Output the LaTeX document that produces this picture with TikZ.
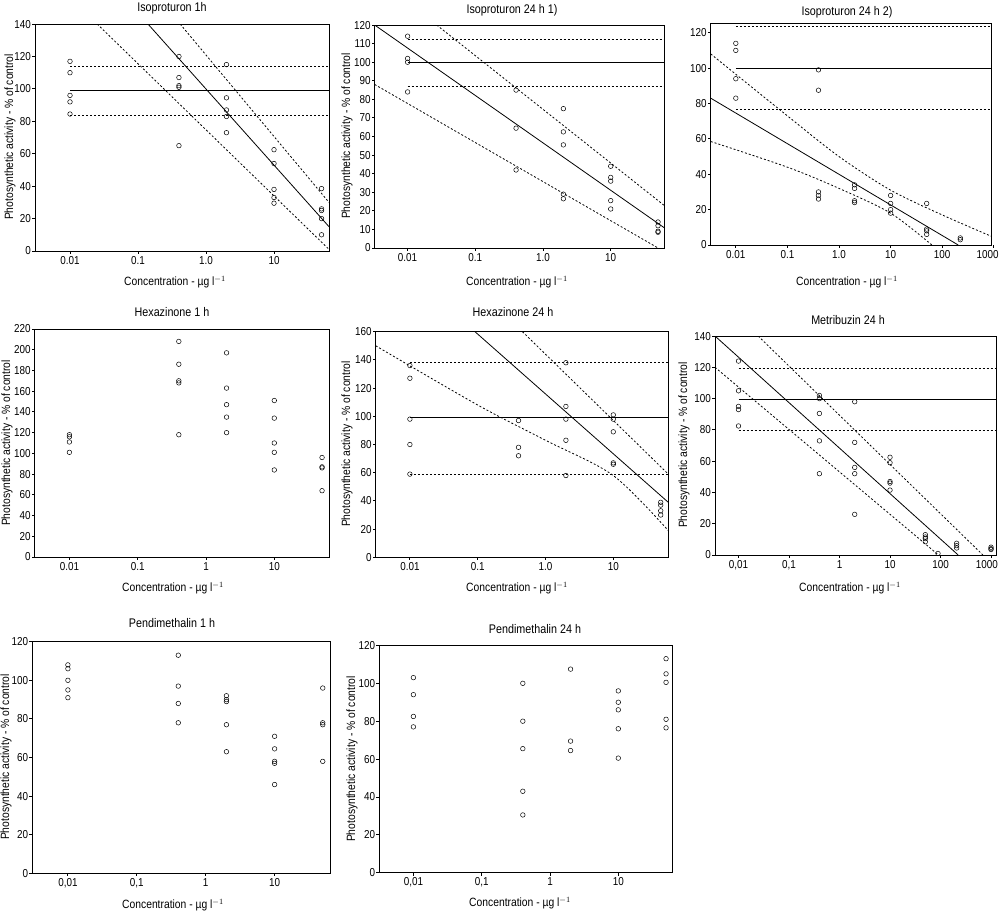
\documentclass[tikz,border=0pt]{standalone}
\usepackage{fontspec}
\setmainfont{Liberation Sans}
\newfontfamily\nar[FakeStretch=0.86]{Liberation Sans}
\begin{document}
\begin{tikzpicture}[x=1pt,y=-1pt,
  tick/.style={font=\nar\fontsize{11.5}{13}\selectfont,inner sep=1pt},
  lab/.style={font=\nar\fontsize{12}{14}\selectfont,inner sep=0pt},
  ttl/.style={font=\nar\fontsize{12.5}{14}\selectfont,inner sep=0pt},
  fr/.style={line width=0.9pt},
  reg/.style={line width=0.8pt},
  ci/.style={line width=0.8pt,dash pattern=on 2pt off 2pt},
  pt/.style={line width=0.5pt}]
\useasboundingbox (0,0) rectangle (1000,911);
\newcommand\myaxes[4]{%
  \draw[fr] (#1,0) rectangle (#2,#3);
  \foreach \v in {#4} {\draw[fr] (#1,\v) -- ++(-3pt,0);
    \node[tick,anchor=east] (yt\v) at ([xshift=-3pt](#1,\v) {\v};}}
\newcommand\myxt[1]{%
  \foreach \k/\l in {#1} {\draw[fr] (\k,0) -- ++(0,-3pt);
    \node[tick,anchor=north] (xt\k) at ([yshift=-4pt]\k,0) {\l};}}
\newcommand\ptcol[2]{\foreach \v in {#2} \draw[pt] (#1,\v) circle[radius=2.3pt];}
\newcommand\xlab{Concentration - \textmu g l$^{-1}$}
\newcommand\ylab{Photosynthetic activity - \% of control}

% ---------- Panel 1
\node[ttl] (t1) at (172,8) {Isoproturon 1h};
\node[lab] (xl1) at (175,282) {\xlab};
\node[lab,rotate=90] (yl1) at (10,137) {\ylab};
\begin{scope}[shift={(206,251)},x=68pt,y=1.621pt]
\myaxes{-2.515}{1.809}{140}{0,20,40,60,80,100,120,140}
\myxt{-2/0.01,-1/0.1,0/1.0,1/10}
\begin{scope}
\clip (-2.515,0) rectangle (1.809,140);
\draw[reg] (-2,99) -- (1.809,99);
\draw[ci] (-2,114) -- (1.809,114);
\draw[ci] (-2,83.5) -- (1.809,83.5);
\draw[reg] (-0.853,140) -- (1.809,15);
\draw[ci] (-0.38,140) -- (1.809,30);
\draw[ci] (-1.60,140) -- (1.809,1);
\end{scope}
\ptcol{-2}{117,110,96,92,84.5}
\ptcol{-0.398}{120,107,102,101,65}
\ptcol{0.301}{115,94.5,87,83,73}
\ptcol{1}{62.5,54,38,33,29.5}
\ptcol{1.699}{38.5,26,25,20,10}
\end{scope}

% ---------- Panel 2
\node[ttl] (t2) at (512,10) {Isoproturon 24 h 1)};
\node[lab] (xl2) at (517,282) {\xlab};
\node[lab,rotate=90] (yl2) at (347,136) {\ylab};
\begin{scope}[shift={(543,248)},x=67.7pt,y=1.858pt]
\myaxes{-2.486}{1.787}{120}{0,10,20,30,40,50,60,70,80,90,100,110,120}
\myxt{-2/0.01,-1/0.1,0/1.0,1/10}
\begin{scope}
\clip (-2.486,0) rectangle (1.787,120);
\draw[reg] (-2,100) -- (1.787,100);
\draw[ci] (-2,112.5) -- (1.787,112.5);
\draw[ci] (-2,87) -- (1.787,87);
\draw[reg] (-2.486,120) -- (1.787,11);
\draw[ci] (-1.57,120) -- (1.787,23);
\draw[ci] (-2.486,88) -- (1.70,0);
\end{scope}
\ptcol{-2}{114,102,100,84}
\ptcol{-0.398}{85,64.5,42}
\ptcol{0.301}{75,62.5,55.5,29,26.5}
\ptcol{1}{44,38,36,25.5,21}
\ptcol{1.699}{14,12,9,8.5}
\end{scope}

% ---------- Panel 3
\node[ttl] (t3) at (847,12) {Isoproturon 24 h 2)};
\node[lab] (xl3) at (847,282) {\xlab};
\begin{scope}[shift={(839,245)},x=51.6pt,y=1.769pt]
\myaxes{-2.486}{2.946}{125.3}{0,20,40,60,80,100,120}
\myxt{-2/0.01,-1/0.1,0/1.0,1/10,2/100}
\draw[fr] (3,0) -- ++(0,-3pt);
\node[tick,anchor=north east] (xt3b) at ([yshift=-4pt,xshift=6pt]3,0) {1000};
\begin{scope}
\clip (-2.486,0) rectangle (2.946,125.3);
\draw[reg] (-2,100) -- (2.946,100);
\draw[ci] (-2,76.5) -- (2.946,76.5);
\draw[ci] (-2,123.5) -- (2.946,123.5);
\draw[reg] (-2.486,83) -- (2.31,0);
\draw[ci] plot[smooth] coordinates {(-2.486,108) (-1,73) (0,50) (1,31) (2,17) (2.946,5)};
\draw[ci] plot[smooth] coordinates {(-2.486,58.5) (-1,44) (0,32) (1,18) (1.8,0)};
\end{scope}
\ptcol{-2}{114,110,94,83}
\ptcol{-0.398}{99,87.5,30,28,26}
\ptcol{0.301}{34,32,25,24}
\ptcol{1}{28,23.5,20,18}
\ptcol{1.699}{23.5,9,8,6}
\ptcol{2.35}{4,3}
\end{scope}

% ---------- Panel 4
\node[ttl] (t4) at (172,312) {Hexazinone 1 h};
\node[lab] (xl4) at (173,588) {\xlab};
\node[lab,rotate=90] (yl4) at (7,443) {\ylab};
\begin{scope}[shift={(206,557)},x=68.3pt,y=1.0364pt]
\myaxes{-2.508}{1.805}{220}{0,20,40,60,80,100,120,140,160,180,200,220}
\myxt{-2/0.01,-1/0.1,0/1,1/10}
\ptcol{-2}{118,116,111,101}
\ptcol{-0.398}{208,186,170,168,118}
\ptcol{0.301}{197,163,147,135,120}
\ptcol{1}{151,134,110,101,84}
\ptcol{1.699}{96,87,86,64}
\end{scope}

% ---------- Panel 5
\node[ttl] (t5) at (513,312) {Hexazinone 24 h};
\node[lab] (xl5) at (517,588) {\xlab};
\node[lab,rotate=90] (yl5) at (347,444) {\ylab};
\begin{scope}[shift={(545.5,557.3)},x=67.8pt,y=1.41pt]
\myaxes{-2.504}{1.811}{160}{0,20,40,60,80,100,120,140,160}
\myxt{-2/0.01,-1/0.1,0/1.0,1/10}
\begin{scope}
\clip (-2.504,0) rectangle (1.811,160);
\draw[reg] (-2,99.5) -- (1.811,99.5);
\draw[ci] (-2,138.5) -- (1.811,138.5);
\draw[ci] (-2,58.5) -- (1.811,58.5);
\draw[reg] (-1.04,160) -- (1.811,39);
\draw[ci] (-0.34,160) -- (1.811,59);
\draw[ci] plot[smooth] coordinates {(-2.504,150) (-1,108) (0,83) (1,58) (1.811,19)};
\end{scope}
\ptcol{-2}{136,127,98,80,59}
\ptcol{-0.398}{97,78,72}
\ptcol{0.301}{138,107,98,83,58}
\ptcol{1}{101,98,89,67,66}
\ptcol{1.699}{39,37,33,30}
\end{scope}

% ---------- Panel 6
\node[ttl] (t6) at (848,320) {Metribuzin 24 h};
\node[lab] (xl6) at (850,588) {\xlab};
\node[lab,rotate=90] (yl6) at (684,445) {\ylab};
\begin{scope}[shift={(839.5,555)},x=50.5pt,y=1.564pt]
\myaxes{-2.465}{3.10}{140}{0,20,40,60,80,100,120,140}
\myxt{-2/{0,01},-1/{0,1},0/1,1/10,2/100}
\draw[fr] (3,0) -- ++(0,-3pt);
\node[tick,anchor=north east] (xt6b) at ([yshift=-4pt,xshift=8pt]3,0) {1000};
\begin{scope}
\clip (-2.465,0) rectangle (3.10,140);
\draw[reg] (-2,99.5) -- (3.10,99.5);
\draw[ci] (-2,119) -- (3.10,119);
\draw[ci] (-2,79.5) -- (3.10,79.5);
\draw[reg] (-2.465,140) -- (2.35,0);
\draw[ci] (-1.61,140) -- (2.84,0);
\draw[ci] (-2.465,120) -- (1.96,0);
\end{scope}
\ptcol{-2}{124,105,95,93,82.5}
\ptcol{-0.398}{102,100,90.5,73,52}
\ptcol{0.301}{98,72,56,52,26}
\ptcol{1}{62.5,59,47,46,41.5}
\ptcol{1.699}{13,11.5,10.5,8.5}
\ptcol{1.95}{1}
\ptcol{2.32}{7.5,6,4.5}
\ptcol{3.0}{5,4,3.5}
\end{scope}

% ---------- Panel 7
\node[ttl] (t7) at (172,623) {Pendimethalin 1 h};
\node[lab] (xl7) at (173,905) {\xlab};
\node[lab,rotate=90] (yl7) at (6,757) {\ylab};
\begin{scope}[shift={(205.7,873.3)},x=68.9pt,y=1.93pt]
\myaxes{-2.517}{1.804}{120}{0,20,40,60,80,100,120}
\myxt{-2/{0,01},-1/{0,1},0/1,1/10}
\ptcol{-2}{108,106,100,95,91}
\ptcol{-0.398}{113,97,88,78}
\ptcol{0.301}{92,90,89,77,63}
\ptcol{1}{71,64.5,58,57,46}
\ptcol{1.699}{96,78,77,58}
\end{scope}

% ---------- Panel 8
\node[ttl] (t8) at (535,629) {Pendimethalin 24 h};
\node[lab] (xl8) at (520,903) {\xlab};
\node[lab,rotate=90] (yl8) at (352,759) {\ylab};
\begin{scope}[shift={(550,872.7)},x=68.3pt,y=1.894pt]
\myaxes{-2.499}{1.796}{120}{0,20,40,60,80,100,120}
\myxt{-2/{0,01},-1/{0,1},0/1,1/10}
\ptcol{-2}{103,94,82.5,77}
\ptcol{-0.398}{100,80,65.5,43,30.5}
\ptcol{0.301}{107.5,69.5,64.5}
\ptcol{1}{96,90,86,76,60.5}
\ptcol{1.699}{113,105,100.5,81,76.5}
\end{scope}
\end{tikzpicture}
\end{document}
